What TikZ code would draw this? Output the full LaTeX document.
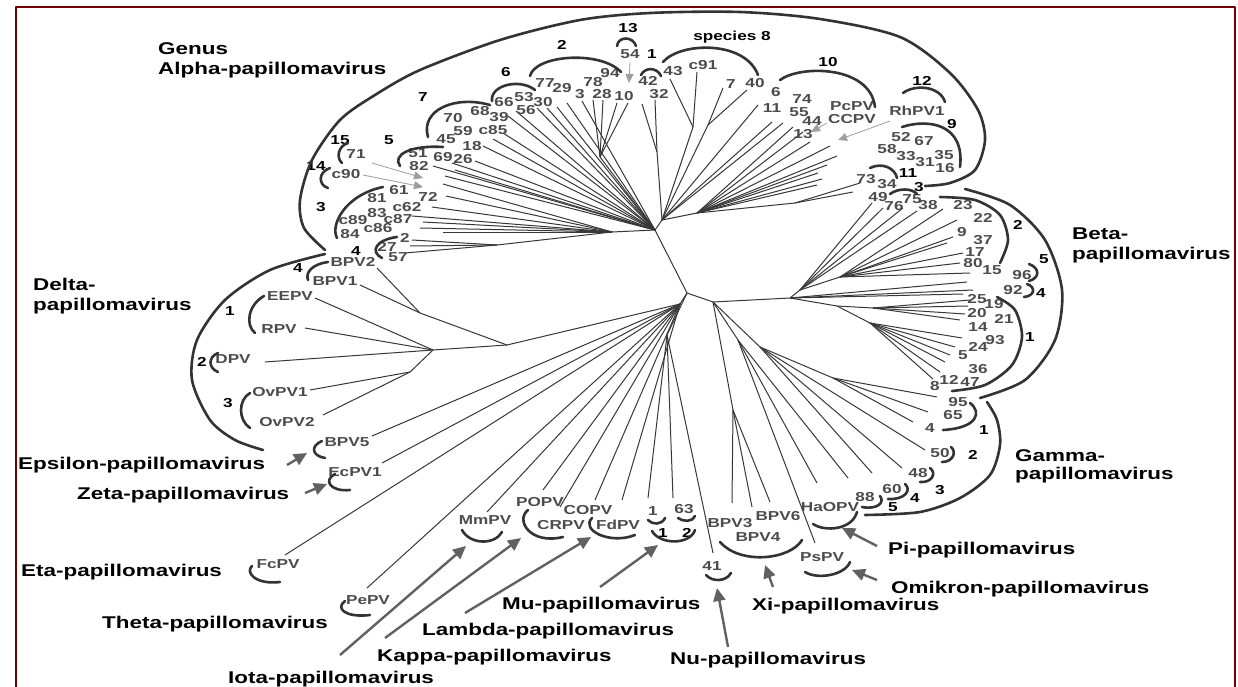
\documentclass[tikz,border=0pt]{standalone}
\usepackage{fontspec}
\setmainfont{Liberation Sans}[FakeStretch=1.32]
\usetikzlibrary{arrows.meta}

\begin{document}
\begin{tikzpicture}[x=1pt,y=-1pt,line join=round]
\tikzset{
  frame/.style={draw=red!45!black, line width=2.2pt},
  br/.style={draw=black!78, line width=1pt},
  brk/.style={draw=black!80, line width=2.6pt, line cap=round},
  num/.style={font=\bfseries\fontsize{13}{15}\selectfont, text=black!70, inner sep=0pt},
  sp/.style={font=\bfseries\fontsize{13}{15}\selectfont, text=black, inner sep=0pt},
  gen/.style={font=\bfseries\fontsize{17}{20}\selectfont, inner sep=0pt, anchor=base west},
  garr/.style={draw=black!50, line width=2.4pt, -{Triangle[length=13pt,width=12pt]}, black!62},
  tarr/.style={draw=black!35, line width=0.8pt, -{Triangle[length=9pt,width=8pt]}, black!38}
}
\useasboundingbox (0,0) rectangle (1238,687);
\fill[white] (0,0) rectangle (1238,687);
\draw[frame] (16,700) -- (16,7) -- (1235,7) -- (1235,700);

% branch points
\coordinate (T0) at (655,230);  \coordinate (T1) at (687,293);
\coordinate (R0) at (713,302);  \coordinate (R1) at (790,298);
\coordinate (AL) at (612,232);  \coordinate (A4) at (497,245);
\coordinate (S10) at (600,157); \coordinate (HU) at (662,220);
\coordinate (S8) at (693,127);  \coordinate (S7) at (708,125);
\coordinate (S32) at (657,152); \coordinate (HR) at (697,213);
\coordinate (H73) at (795,203); \coordinate (B3) at (800,290);
\coordinate (B2) at (840,277);  \coordinate (BX) at (837,306);
\coordinate (B1) at (873,308);  \coordinate (B1b) at (870,323);
\coordinate (G0) at (760,347);  \coordinate (G1) at (833,378);
\coordinate (GP) at (738,340);  \coordinate (X) at (733,410);
\coordinate (L0) at (680,304);  \coordinate (M0) at (667,335);
\coordinate (D0) at (507,345);  \coordinate (DA) at (420,313);
\coordinate (DC) at (433,350);  \coordinate (DO) at (410,372);

\foreach \c/\p in {AL/T0,A4/AL,S10/T0,HU/T0,S8/HU,S7/HU,S32/HU,HR/HU,H73/HR,
  T1/T0,R0/T1,R1/R0,B3/R1,B2/B3,BX/R1,B1/BX,B1b/BX,G0/R0,G1/G0,GP/R0,X/R0,
  L0/T1,M0/T1,D0/L0,DA/D0,DC/D0,DO/DC}
  \draw[br] (\p) -- (\c);

% leaves
\foreach \h/\ends in {
  T0/{{433,166},{452,163},{475,161},{483,146},{493,139},{503,133},{508,116},{516,111},{537,108},{547,108},{557,107},{567,103},{582,101},{445,176},{455,170}},
  AL/{{443,184},{446,196},{432,207},{412,216},{423,222},{420,228},{443,232}},
  A4/{{412,240},{410,246},{405,253}},
  S10/{{593,100},{603,100},{617,103},{628,103}},
  S32/{{642,104},{655,100}},
  S8/{{670,79},{697,72}},
  S7/{{723,88},{747,90}},
  HU/{{758,105},{772,122},{783,123}},
  HR/{{793,127},{803,132},{810,142},{830,146},{837,156},{827,165},{818,173},{822,179},{817,185}},
  H73/{{860,183},{853,192}},
  B3/{{872,203},{883,208},{903,208},{917,211}},
  B2/{{943,209},{957,220},{953,237},{947,243},{963,253},{960,263},{970,273}},
  R1/{{967,282},{973,290},{963,294}},
  B1/{{970,300},{968,306},{965,314},{960,320}},
  B1b/{{962,338},{955,347},{950,355},{945,362},{940,372},{933,379}},
  G1/{{937,397},{928,412},{913,422}},
  G0/{{925,450},{902,468},{872,473}},
  GP/{{848,478},{817,483},{815,543}},
  X/{{732,503},{752,507},{770,502}},
  M0/{{648,498},{673,498},{713,553}},
  L0/{{622,500},{595,500},{560,507},{543,490},{487,512},{367,588},{285,555},{382,463},{372,436}},
  DA/{{377,268},{360,285}},
  DC/{{315,298},{305,328},{265,362}},
  DO/{{310,390},{323,415}}}
  \foreach \p [count=\k] in \ends {
    \coordinate (\h-\k) at (\p);
    \draw[br] (\h) -- (\h-\k);
  }

% leaf labels
\foreach \t/\p [count=\k] in {
  71/{356,154},c90/{346,174},51/{418,153},82/{419,166},69/{443,157},26/{463,159},
  18/{472,146},45/{446,139},59/{463,131},c85/{493,130},70/{453,118},68/{480,111},
  39/{499,117},66/{504,102},53/{524,97},56/{526,110},30/{543,102},77/{545,83},
  29/{562,88},3/{580,94},78/{593,82},28/{602,94},10/{624,96},94/{610,73},
  54/{630,54},42/{648,81},32/{659,94},43/{673,71},c91/{703,65},7/{731,84},
  40/{755,83},6/{776,92},11/{772,108},74/{802,99},55/{799,112},44/{812,121},
  13/{803,134},PcPV/{852,106},CCPV/{852,119},RhPV1/{917,111},52/{901,137},
  67/{924,141},58/{887,149},33/{906,156},31/{925,162},35/{944,155},16/{945,168},
  73/{866,179},34/{887,184},49/{878,197},76/{894,206},75/{912,199},38/{928,205},
  61/{399,190},81/{377,198},72/{428,197},c62/{407,207},c89/{353,220},83/{377,213},
  c87/{398,219},84/{350,234},c86/{378,228},2/{405,238},27/{387,247},57/{398,257},
  BPV2/{353,262},BPV1/{335,281},EEPV/{290,296},RPV/{279,329},DPV/{233,359},
  OvPV1/{280,392},OvPV2/{287,422},BPV5/{347,442},EcPV1/{355,472},FcPV/{278,564},
  PePV/{368,600},MmPV/{485,520},POPV/{540,502},COPV/{588,510},CRPV/{561,525},
  FdPV/{618,525},1/{653,511},63/{684,509},41/{712,566},BPV3/{730,523},
  BPV6/{778,516},BPV4/{758,537},HaOPV/{830,507},PsPV/{822,557},88/{865,497},
  60/{892,489},48/{918,473},50/{940,453},
  23/{963,205},22/{983,218},9/{962,232},37/{983,240},17/{975,252},80/{973,263},
  15/{992,270},96/{1022,275},92/{1013,290},25/{977,299},19/{994,304},20/{977,313},
  21/{1004,319},14/{978,327},93/{995,340},24/{978,347},5/{963,355},36/{978,369},
  8/{935,386},12/{949,380},47/{970,382},95/{958,402},65/{953,415},4/{930,428}}
  \node[num] (lb\k) at (\p) {\t};

% species numbers
\foreach \t/\p [count=\k] in {
  15/{340,140},14/{316,166},5/{389,140},7/{423,97},6/{506,72},2/{562,45},
  13/{628,28},1/{652,54},species 8/{732,37},10/{828,62},12/{922,81},9/{952,124},
  11/{908,173},3/{919,187},3/{321,207},4/{356,251},4/{298,268},1/{230,311},
  2/{202,362},3/{228,403},1/{663,533},2/{687,533},2/{1018,225},5/{1044,259},
  4/{1041,293},1/{1030,337},1/{984,430},2/{973,455},3/{940,490},4/{915,498},5/{893,507}}
  \node[sp] (sn\k) at (\p) {\t};

% brackets
\draw[brk] plot[smooth] coordinates {(325,250) (304,228) (300,200) (312,160) (340,120)
  (375,95) (420,70) (500,40) (580,20) (650,13) (740,12) (820,19) (900,37) (950,73)
  (978,110) (985,140) (975,170) (950,183) (925,186)};
\draw[brk] plot[smooth] coordinates {(325,254) (270,270) (225,300) (197,340) (192,380)
  (210,420) (235,440) (263,450)};
\draw[brk] plot[smooth] coordinates {(965,189) (1010,205) (1045,240) (1062,290)
  (1055,340) (1025,380) (980,398)};
\draw[brk] plot[smooth] coordinates {(940,197) (975,200) (1000,215) (1008,240) (1000,263)};
\draw[brk] plot[smooth] coordinates {(997,297) (1015,310) (1022,337) (1012,365) (985,385) (952,391)};
\draw[brk] plot[smooth] coordinates {(987,402) (997,420) (1000,445) (990,475) (960,498)
  (920,512) (865,515)};
\draw[brk] (1029,264) .. controls (1040,268) and (1040,278) .. (1029,281);
\draw[brk] (1027,284) .. controls (1036,287) and (1035,296) .. (1024,297);
\draw[brk] (970,403) .. controls (982,412) and (978,428) .. (943,430);
\draw[brk] (951,447) .. controls (957,452) and (953,462) .. (942,462);
\draw[brk] (930,468) .. controls (937,473) and (932,483) .. (920,482);
\draw[brk] (905,484) .. controls (912,490) and (905,500) .. (888,499);
\draw[brk] (880,496) .. controls (885,502) and (878,510) .. (862,507);
% alpha species
\draw[brk] (383,187) .. controls (345,195) and (330,225) .. (337,238);
\draw[brk] (397,237) .. controls (375,240) and (370,252) .. (382,258);
\draw[brk] (348,143) .. controls (338,146) and (336,158) .. (342,163);
\draw[brk] (330,168) .. controls (318,172) and (318,185) .. (328,188);
\draw[brk] (400,166) .. controls (392,155) and (410,145) .. (443,147);
\draw[brk] (428,137) .. controls (420,110) and (455,95) .. (490,105);
\draw[brk] (492,101) .. controls (490,85) and (520,78) .. (535,90);
\draw[brk] (530,76) .. controls (535,55) and (600,50) .. (621,72);
\draw[brk] (617,46) .. controls (618,36) and (633,36) .. (636,46);
\draw[brk] (641,75) .. controls (645,67) and (657,67) .. (661,76);
\draw[brk] (663,62) .. controls (680,42) and (745,40) .. (758,75);
\draw[brk] (780,80) .. controls (800,65) and (870,65) .. (875,107);
\draw[brk] (903,93) .. controls (915,84) and (940,86) .. (945,102);
\draw[brk] (902,127) .. controls (930,118) and (965,125) .. (960,167);
\draw[brk] (870,168) .. controls (882,162) and (895,168) .. (897,178);
\draw[brk] (890,194) .. controls (898,188) and (912,188) .. (917,194);
% delta and single-species genera
\draw[brk] (328,262) .. controls (313,264) and (305,272) .. (308,280);
\draw[brk] (264,296) .. controls (248,305) and (245,325) .. (255,333);
\draw[brk] (218,353) .. controls (208,357) and (208,368) .. (218,372);
\draw[brk] (250,393) .. controls (238,400) and (238,420) .. (250,428);
\draw[brk] (322,441) .. controls (310,446) and (312,456) .. (325,458);
\draw[brk] (335,474) .. controls (323,480) and (330,492) .. (350,490);
\draw[brk] (252,566) .. controls (245,572) and (255,585) .. (280,582);
\draw[brk] (345,601) .. controls (335,608) and (345,618) .. (370,615);
\draw[brk] (462,530) .. controls (470,545) and (495,545) .. (502,532);
\draw[brk] (528,510) .. controls (515,520) and (530,545) .. (563,537);
\draw[brk] (592,518) .. controls (580,530) and (610,545) .. (635,535);
\draw[brk] (648,520) .. controls (652,525) and (662,525) .. (665,518);
\draw[brk] (678,518) .. controls (683,522) and (693,522) .. (695,516);
\draw[brk] (652,531) .. controls (660,545) and (690,545) .. (695,530);
\draw[brk] (706,575) .. controls (712,582) and (726,582) .. (731,573);
\draw[brk] (720,542) .. controls (740,565) and (790,560) .. (802,540);
\draw[brk] (813,524) .. controls (825,532) and (852,530) .. (857,512);
\draw[brk] (805,572) .. controls (818,580) and (845,575) .. (850,562);

% genus names
\node[gen] (genus) at (158,55) {Genus};
\node[gen] (alpha) at (158,75) {Alpha-papillomavirus};
\node[gen] (delta1) at (33,290) {Delta-};
\node[gen] (delta) at (33,310) {papillomavirus};
\node[gen] (beta1) at (1072,239) {Beta-};
\node[gen] (beta) at (1072,259) {papillomavirus};
\node[gen] (gamma1) at (1015,461) {Gamma-};
\node[gen] (gamma) at (1015,479) {papillomavirus};
\node[gen] (epsilon) at (18,469) {Epsilon-papillomavirus};
\node[gen] (zeta) at (77,499) {Zeta-papillomavirus};
\node[gen] (eta) at (21,576) {Eta-papillomavirus};
\node[gen] (theta) at (102,628) {Theta-papillomavirus};
\node[gen] (iota) at (228,683) {Iota-papillomavirus};
\node[gen] (kappa) at (377,661) {Kappa-papillomavirus};
\node[gen] (lambda) at (422,635) {Lambda-papillomavirus};
\node[gen] (mu) at (502,609) {Mu-papillomavirus};
\node[gen] (nu) at (670,664) {Nu-papillomavirus};
\node[gen] (xi) at (752,610) {Xi-papillomavirus};
\node[gen] (pi) at (888,554) {Pi-papillomavirus};
\node[gen] (omikron) at (891,593) {Omikron-papillomavirus};

% pointers
\foreach \a/\x/\y/\b/\u/\v in {
  ep/287/465/eph/307/453, ze/305/493/zeh/327/484, io/340/655/ioh/466/546,
  ka/385/638/kah/521/538, la/465/613/lah/591/537, mu/600/587/muh/658/545,
  nu/728/647/nuh/717/588, xi/773/587/xih/765/565, pi/877/546/pih/842/528,
  om/877/580/omh/852/570} {
  \coordinate (\a) at (\x,\y); \coordinate (\b) at (\u,\v);
  \draw[garr] (\a) -- (\b);
}
\foreach \a/\x/\y/\b/\u/\v in {
  s15/372/163/s15h/423/178, s14/363/175/s14h/423/187, s13/630/62/s13h/629/83,
  pc/827/123/pch/811/132, rh/890/121/rhh/838/140} {
  \coordinate (\a) at (\x,\y); \coordinate (\b) at (\u,\v);
  \draw[tarr] (\a) -- (\b);
}
\end{tikzpicture}
\end{document}
